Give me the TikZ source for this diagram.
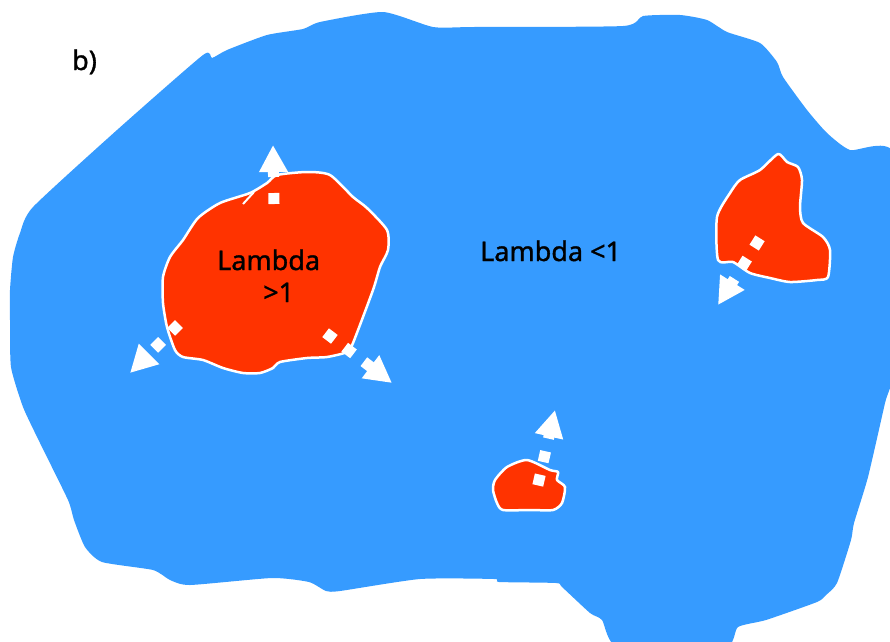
\documentclass[tikz,border=0pt]{standalone}
\usepackage{fontspec}
\setmainfont[FakeBold=1.2]{Noto Sans}
\newfontfamily\lblfont[FakeBold=1.2]{Noto Sans}
\usetikzlibrary{arrows.meta}
\definecolor{sea}{RGB}{54,155,255}
\definecolor{patch}{RGB}{255,51,0}
\begin{document}
\begin{tikzpicture}[x=1pt,y=-1pt,
  blob/.style={fill=patch,draw=white,line width=2.5pt,line join=round},
  flowarrow/.style={draw=white,line width=11pt,dash pattern=on 11pt off 13pt,-{Triangle[length=27pt,width=27pt]}},
  lbl/.style={inner sep=0pt,anchor=base west,font=\lblfont\bfseries\fontsize{27}{32}\selectfont}]
\useasboundingbox (0,0) rectangle (890,641);
\begin{scope}
\clip (0,0) rectangle (890,641);
\fill[sea] plot[smooth cycle,tension=0.35] coordinates {
 (203,55) (212,58) (227,50) (267,35) (303,29) (320,22) (383,12) (433,27)
 (473,27) (623,26) (643,16) (680,15) (707,20) (727,32) (760,43) (777,62)
 (783,77) (807,110) (827,133) (850,150) (895,156) (895,360) (885,403)
 (868,477) (854,523) (851,540) (837,583) (826,595) (817,602) (766,620)
 (738,627) (724,648) (619,648) (602,620) (590,613) (562,587) (556,583)
 (499,582) (494,579) (420,579) (340,591) (326,591) (309,582) (272,578)
 (190,585) (170,580) (153,570) (102,562) (85,547) (74,520) (68,500)
 (40,443) (23,407) (11,367) (10,320) (10,290) (13,257) (20,233) (33,207)
 (117,130)};
\end{scope}
% big patch
\draw[blob] plot[smooth cycle,tension=0.4] coordinates {
 (198,218) (220,203) (250,193) (267,183) (277,175) (307,172) (330,175)
 (353,197) (367,208) (387,230) (388,250) (380,267) (373,290) (353,343)
 (347,352) (327,357) (307,358) (280,362) (273,368) (260,373) (243,373)
 (223,368) (203,360) (183,357) (175,350) (167,327) (163,303) (163,277)
 (170,257) (183,240)};
\draw[white,line width=2pt] (243,204) -- (254,192);
% small patch
\draw[blob] plot[smooth cycle,tension=0.4] coordinates {
 (495,480) (507,467) (527,460) (550,470) (558,472) (557,480) (565,487)
 (562,503) (553,510) (530,510) (503,510) (497,503) (493,490)};
% right patch
\draw[blob] plot[smooth cycle,tension=0.4] coordinates {
 (778,154) (787,162) (798,167) (802,180) (800,207) (803,223) (823,237)
 (830,250) (828,277) (817,280) (790,282) (770,278) (750,273) (733,262)
 (718,260) (717,217) (730,193) (740,180) (760,170)};
% arrows
\coordinate (a1s) at (274,204); \coordinate (a1e) at (273,145);
\draw[flowarrow,dash pattern=on 11pt off 16pt] (a1s) -- (a1e);
\coordinate (a2s) at (179,324); \coordinate (a2e) at (130,373);
\draw[flowarrow] (a2s) -- (a2e);
\coordinate (a3s) at (325.6,332.7); \coordinate (a3e) at (392,383);
\draw[flowarrow] (a3s) -- (a3e);
\coordinate (a4s) at (537.8,485.4); \coordinate (a4e) at (555,410);
\draw[flowarrow] (a4s) -- (a4e);
\coordinate (a5s) at (760,238.3); \coordinate (a5e) at (718,305);
\draw[flowarrow] (a5s) -- (a5e);
% labels
\node[lbl] (b) at (72,70) {b)};
\node[lbl] (lam1) at (217,270) {Lambda};
\node[lbl] (gt1) at (263,302) {>1};
\node[lbl] (lam2) at (480,261) {Lambda <1};
\end{tikzpicture}
\end{document}
